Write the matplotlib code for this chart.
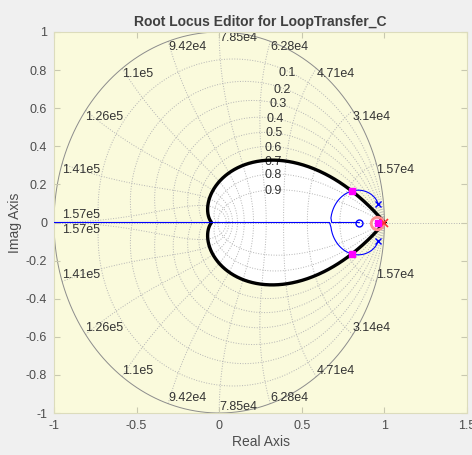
import numpy as np
import matplotlib.pyplot as plt

plt.rcParams['font.family'] = ['Liberation Sans', 'DejaVu Sans']

# sample time: pi/Ts = 1.57e5 rad/s
Ts = 2e-5

# z-grid: damping ratios and natural frequencies (rad/s)
zeta_lines = [0.1, 0.2, 0.3, 0.4, 0.5, 0.6, 0.7, 0.8, 0.9]
zeta_label_x = [0.412, 0.382, 0.358, 0.339, 0.333, 0.327, 0.327, 0.327, 0.327]
zeta_label_y = [0.785, 0.698, 0.620, 0.543, 0.469, 0.391, 0.317, 0.249, 0.166]
wn_values = [1.5708e4, 3.1416e4, 4.7124e4, 6.2832e4, 7.854e4,
             9.4248e4, 1.0996e5, 1.2566e5, 1.4137e5, 1.5708e5]
wn_labels = ['1.57e4', '3.14e4', '4.71e4', '6.28e4', '7.85e4',
             '9.42e4', '1.1e5', '1.26e5', '1.41e5', '1.57e5']

# design requirement: damping ratio >= 0.7
zeta_min = 0.7

# plant G and compensator C
plant_zeros = [0.848]
plant_poles = [0.962 + 0.096j, 0.962 - 0.096j]
comp_zeros = [0.955]
comp_poles = [1.0]
loop_gain = 0.354

xticks = [-1, -0.5, 0, 0.5, 1, 1.5]
yticks = [-1, -0.8, -0.6, -0.4, -0.2, 0, 0.2, 0.4, 0.6, 0.8, 1]

bg_yellow = '#fafadc'
grid_col = '#b4b4b4'
text_col = '#4d4d4d'

fig = plt.figure(figsize=(4.72, 4.55), dpi=100, facecolor='#f0f0f0')
ax = fig.add_axes([54 / 472, 1 - 413 / 455, 413 / 472, 381 / 455])
ax.set_facecolor(bg_yellow)

# white region inside the damping constraint boundary
theta = np.linspace(0, np.pi, 400)
m = zeta_min / np.sqrt(1 - zeta_min ** 2)
zb = np.exp(theta * (-m + 1j))
bx = np.concatenate([zb.real, zb.real[::-1]])
by = np.concatenate([zb.imag, -zb.imag[::-1]])
ax.fill(bx, by, color='white', zorder=0.5, lw=0)

# zgrid lines
ax.axhline(0, color=grid_col, ls=':', lw=0.7, zorder=1)
for zt in zeta_lines:
    mz = zt / np.sqrt(1 - zt ** 2)
    z = np.exp(theta * (-mz + 1j))
    ax.plot(z.real, z.imag, ':', color=grid_col, lw=0.7, zorder=1)
    ax.plot(z.real, -z.imag, ':', color=grid_col, lw=0.7, zorder=1)
zz = np.linspace(0, 1, 200)
for wn in wn_values:
    wT = wn * Ts
    z = np.exp(wT * (-zz + 1j * np.sqrt(1 - zz ** 2)))
    ax.plot(z.real, z.imag, ':', color=grid_col, lw=0.7, zorder=1)
    ax.plot(z.real, -z.imag, ':', color=grid_col, lw=0.7, zorder=1)
circ = np.linspace(0, 2 * np.pi, 400)
ax.plot(np.cos(circ), np.sin(circ), color='#8c8c8c', lw=0.7, zorder=1.5)

# grid labels
for zt, lx, ly in zip(zeta_lines, zeta_label_x, zeta_label_y):
    ax.text(lx, ly, '%g' % zt, fontsize=9, color='#333333',
            ha='center', va='center', zorder=2)
for i, (wn, lab) in enumerate(zip(wn_values, wn_labels)):
    a = wn * Ts
    px, py = np.cos(a), np.sin(a)
    if i == len(wn_values) - 1:
        ax.text(px + 0.05, 0.01, lab, fontsize=9, color='#333333',
                ha='left', va='bottom', zorder=2)
        ax.text(px + 0.05, -0.01, lab, fontsize=9, color='#333333',
                ha='left', va='top', zorder=2)
    else:
        ax.text(px, py, lab, fontsize=9, color='#333333',
                ha='left', va='top', zorder=2)
        ax.text(px, -py, lab, fontsize=9, color='#333333',
                ha='left', va='bottom', zorder=2)

# constraint boundary
ax.plot(bx, by, color='black', lw=2.4, zorder=3)

# root locus of the open loop C*G
num = np.poly(plant_zeros + comp_zeros)
den = np.poly(plant_poles + comp_poles).real
gains = np.logspace(-5, 5, 4000)
prev = np.roots(den)
branches = [prev]
for k in gains:
    r = list(np.roots(np.polyadd(den, k * num)))
    cur = []
    for p in prev:
        j = int(np.argmin([abs(q - p) for q in r]))
        cur.append(r.pop(j))
    prev = np.array(cur)
    branches.append(prev)
branches = np.array(branches)
for b in range(branches.shape[1]):
    ax.plot(branches[:, b].real, branches[:, b].imag, color='#0000ff',
            lw=0.8, zorder=4)

# poles and zeros
pp = np.array(plant_poles)
ax.plot(pp.real, pp.imag, 'x', color='#0000ff', ms=5, mew=1, zorder=5)
pz = np.array(plant_zeros)
ax.plot(pz.real, pz.imag, 'o', mfc='none', mec='#0000ff', ms=5, mew=1,
        zorder=5)
cz = np.array(comp_zeros)
ax.plot(cz.real, cz.imag, 'o', mfc='none', mec='#ff9090', ms=9, mew=2,
        zorder=5)
cp = np.array(comp_poles)
ax.plot(cp.real, cp.imag, 'x', color='#ff3030', ms=6, mew=1.2, zorder=5)

# closed-loop poles at the current gain
cl = np.roots(np.polyadd(den, loop_gain * num))
ax.plot(cl.real, cl.imag, 's', color='#ff00ff', ms=5, zorder=6)

ax.set_xlim(-1, 1.5)
ax.set_ylim(-1, 1)
ax.set_xticks(xticks)
ax.set_xticklabels(['-1', '-0.5', '0', '0.5', '1', '1.5'])
ax.set_yticks(yticks)
ax.set_yticklabels(['%g' % v for v in yticks])
ax.tick_params(direction='in', length=4, color='#c8c8b0', labelcolor=text_col,
               labelsize=9, top=True, right=True, pad=5)
for s in ax.spines.values():
    s.set_color('#dcdcbc')
    s.set_linewidth(0.8)

ax.set_title('Root Locus Editor for LoopTransfer_C', fontsize=10,
             fontweight='bold', color='#404040', pad=4)
ax.set_xlabel('Real Axis', fontsize=10, color=text_col, labelpad=2)
ax.set_ylabel('Imag Axis', fontsize=10, color=text_col, labelpad=3)

fig.savefig('out.png', dpi=100, facecolor=fig.get_facecolor())
